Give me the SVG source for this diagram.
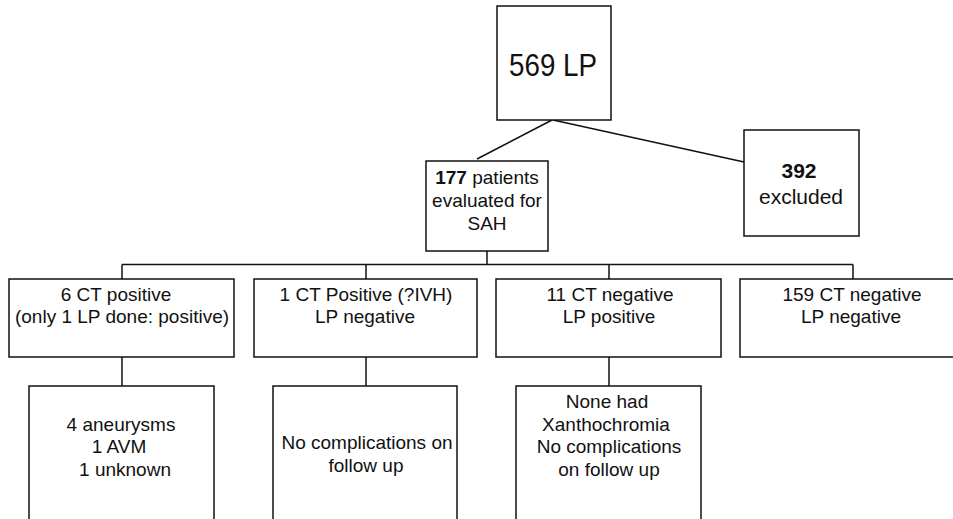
<svg xmlns="http://www.w3.org/2000/svg" width="953" height="519" viewBox="0 0 953 519">
<style>
.box{fill:#fff;stroke:#111;stroke-width:1.5}
.ln{fill:none;stroke:#111;stroke-width:1.5}
text{font-family:"Liberation Sans",Arial,sans-serif;fill:#111;text-anchor:middle}
.t{font-size:19px}
.b{font-weight:bold}
</style>
<rect width="953" height="519" fill="#fff"/>
<g id="connectors">
<line class="ln" x1="552" y1="120" x2="477" y2="159"/>
<line class="ln" x1="553" y1="120" x2="744" y2="162"/>
<line class="ln" x1="487" y1="251" x2="487" y2="264.5"/>
<line class="ln" x1="122" y1="264.5" x2="853" y2="264.5"/>
<line class="ln" x1="122" y1="264.5" x2="122" y2="279"/>
<line class="ln" x1="366" y1="264.5" x2="366" y2="279"/>
<line class="ln" x1="609" y1="264.5" x2="609" y2="279"/>
<line class="ln" x1="853" y1="264.5" x2="853" y2="279"/>
<line class="ln" x1="122" y1="357" x2="122" y2="386"/>
<line class="ln" x1="366" y1="357" x2="366" y2="386"/>
<line class="ln" x1="609" y1="357" x2="609" y2="386"/>
</g>
<g id="n569">
<rect class="box" x="497" y="6" width="114" height="114"/>
<text x="553" y="76" style="font-size:31px" textLength="88" lengthAdjust="spacingAndGlyphs">569 LP</text>
</g>
<g id="n177">
<rect class="box" x="426" y="161" width="122" height="90"/>
<text class="t" x="487" y="184"><tspan class="b">177</tspan> patients</text>
<text class="t" x="487" y="207">evaluated for</text>
<text class="t" x="487" y="230">SAH</text>
</g>
<g id="n392">
<rect class="box" x="744" y="130" width="115" height="106"/>
<text x="799" y="178" class="b" style="font-size:21px">392</text>
<text x="801" y="204" style="font-size:21px">excluded</text>
</g>
<g id="ctpos">
<rect class="box" x="9" y="279" width="225" height="78"/>
<text class="t" x="116" y="301">6 CT positive</text>
<text class="t" x="122" y="323">(only 1 LP done: positive)</text>
</g>
<g id="ctposivh">
<rect class="box" x="254" y="279" width="223" height="78"/>
<text class="t" x="366" y="301">1 CT Positive (?IVH)</text>
<text class="t" x="365" y="323">LP negative</text>
</g>
<g id="ctneglppos">
<rect class="box" x="496" y="279" width="225" height="78"/>
<text class="t" x="610" y="301">11 CT negative</text>
<text class="t" x="609" y="323">LP positive</text>
</g>
<g id="ctneglpneg">
<rect class="box" x="740" y="279" width="225" height="78"/>
<text class="t" x="852" y="301">159 CT negative</text>
<text class="t" x="851" y="323">LP negative</text>
</g>
<g id="outcome1">
<rect class="box" x="29" y="386" width="185" height="145"/>
<text class="t" x="121" y="431">4 aneurysms</text>
<text class="t" x="119" y="453">1 AVM</text>
<text class="t" x="125" y="476">1 unknown</text>
</g>
<g id="outcome2">
<rect class="box" x="273" y="386" width="184" height="145"/>
<text class="t" x="367" y="449">No complications on</text>
<text class="t" x="366" y="472">follow up</text>
</g>
<g id="outcome3">
<rect class="box" x="516" y="386" width="185" height="145"/>
<text class="t" x="607" y="408">None had</text>
<text class="t" x="606" y="431">Xanthochromia</text>
<text class="t" x="609" y="453">No complications</text>
<text class="t" x="609" y="476">on follow up</text>
</g>
</svg>
